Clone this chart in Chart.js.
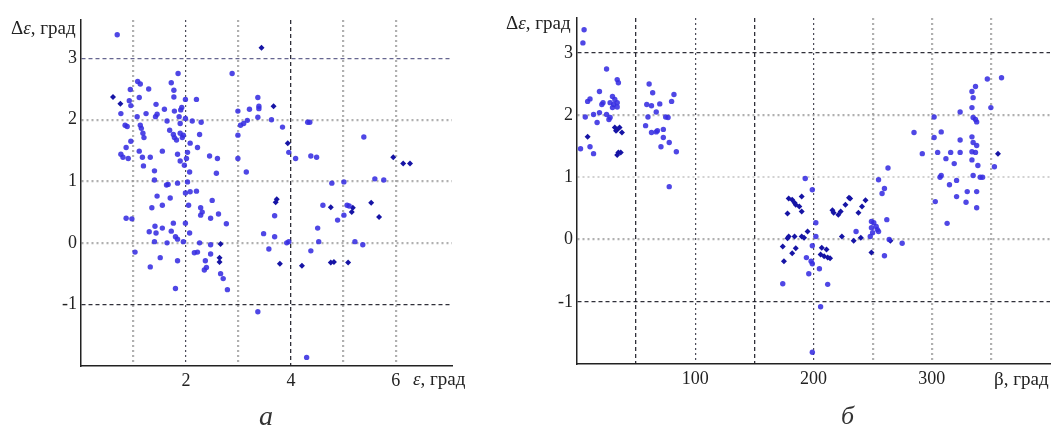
<!DOCTYPE html>
<html>
<head>
<meta charset="utf-8">
<script src="https://cdn.jsdelivr.net/npm/chart.js@4.4.1/dist/chart.umd.min.js"></script>
<style>
  html, body { margin: 0; padding: 0; background: #fff; }
  #wrap { position: relative; width: 1056px; height: 425px; overflow: hidden;
          font-family: "Liberation Serif", "DejaVu Serif", serif; color: #222; }
  #wrap canvas { position: absolute; top: 0; }
  .lbl { position: absolute; white-space: nowrap; font-size: 19px; line-height: 1; }
  .cap { position: absolute; font-style: italic; line-height: 1; color: #333; }
</style>
</head>
<body>
<div id="wrap">
  <canvas id="chart-a" width="480" height="425" style="left:0"></canvas>
  <canvas id="chart-b" width="566" height="425" style="left:490px"></canvas>

  <div class="lbl" style="left:11px; top:18px">Δ<i>ε</i>, град</div>
  <div class="lbl" style="left:413px; top:369px"><i>ε</i>, град</div>
  <div class="cap" style="left:259px; top:402px; font-size:28px">а</div>

  <div class="lbl" style="left:506px; top:13px">Δ<i>ε</i>, град</div>
  <div class="lbl" style="left:994px; top:369px">β, град</div>
  <div class="cap" style="left:841px; top:403px; font-size:26px">б</div>
</div>

<script>
// ---- data: chart (а), Δε vs ε ----
const leftDotX = [0.69,1.85,2.88,1.08,1.13,1.29,0.94,1.72,1.77,0.92,
  0.95,1.11,1.43,1.59,1.77,1.99,2.20,1.92,1.90,1.78,
  1.24,1.42,1.45,0.76,1.07,1.64,1.87,1.99,2.12,2.29,
  1.89,0.84,0.88,1.13,1.15,1.18,1.20,1.69,1.76,1.78,
  1.82,1.89,1.95,1.93,2.26,0.95,0.86,1.11,1.55,2.08,
  2.22,2.03,0.76,0.80,0.90,1.17,1.32,1.84,2.01,1.89,
  2.45,2.60,1.19,1.97,1.40,2.07,2.58,2.99,3.15,2.99,
  2.99,3.04,3.10,3.17,3.21,3.37,3.39,3.37,1.40,1.63,
  1.66,1.84,2.03,1.99,2.08,2.20,1.45,1.70,2.50,3.39,
  3.63,3.84,4.32,4.36,3.96,4.09,4.38,4.49,5.39,4.78,
  5.01,5.60,5.77,0.86,0.97,1.35,1.55,2.05,2.28,2.31,
  2.28,2.47,2.62,2.77,1.41,1.30,1.43,1.55,1.76,1.99,
  1.72,1.80,1.84,2.07,1.40,1.64,1.95,2.26,2.47,1.03,
  1.51,2.16,2.22,2.47,1.84,2.37,2.35,2.39,1.32,2.66,
  2.71,1.80,2.79,3.37,4.61,5.07,5.11,5.01,4.89,3.69,
  3.48,3.69,4.51,3.92,3.96,4.53,3.58,4.38,5.22,5.37,
  4.30];
const leftDotY = [3.38,2.75,2.75,2.62,2.58,2.50,2.49,2.60,2.48,2.31,
  2.23,2.36,2.25,2.17,2.37,2.33,2.33,2.20,2.16,2.14,
  2.10,2.05,2.09,2.10,2.05,1.98,2.05,2.02,1.98,1.96,
  1.94,1.91,1.89,1.91,1.86,1.78,1.71,1.83,1.76,1.71,
  1.67,1.78,1.75,1.71,1.76,1.65,1.55,1.49,1.49,1.62,
  1.55,1.47,1.44,1.39,1.37,1.39,1.39,1.44,1.37,1.33,
  1.41,1.37,1.25,1.26,1.17,1.15,1.13,1.37,1.15,1.75,
  2.14,1.91,1.94,1.99,2.17,2.36,2.18,2.04,1.02,0.94,
  0.95,0.97,0.99,0.81,0.83,0.84,0.76,0.73,0.69,2.22,
  2.00,1.88,1.96,1.96,1.47,1.37,1.41,1.39,1.72,0.97,
  0.99,1.04,1.02,0.40,0.39,0.57,0.61,0.61,0.57,0.50,
  0.45,0.40,0.47,0.31,0.27,0.18,0.16,0.24,0.32,0.32,
  0.19,0.10,0.06,0.16,0.02,0.00,0.02,0.00,-0.03,-0.15,
  -0.24,-0.16,-0.15,-0.18,-0.29,-0.29,-0.44,-0.40,-0.39,-0.50,
  -0.58,-0.74,-0.76,-1.12,0.61,0.61,0.60,0.45,0.37,0.44,
  0.15,0.10,0.24,0.00,0.02,0.02,-0.10,-0.13,0.02,-0.03,
  -1.86];
const leftCrossX = [0.61,0.75,3.44,3.67,3.94,5.95,6.14,6.27,3.73,3.71,4.76,5.18,
  5.16,5.53,5.68,3.79,4.21,4.76,4.82,5.09,2.66,2.64,2.64];
const leftCrossY = [2.37,2.26,3.17,2.22,1.62,1.39,1.29,1.29,0.71,0.66,0.58,0.57,
  0.50,0.65,0.42,-0.34,-0.37,-0.32,-0.31,-0.32,-0.02,-0.24,-0.31];
const leftXLabels = [2, 4, 6];
const leftYLabels = [-1, 0, 1, 2, 3];

// ---- data: chart (б), Δε vs β ----
const rightDotX = [6,5,25,34,35,19,11,9,22,21,
  30,32,34,31,28,34,30,19,14,7,
  25,28,27,17,3,11,14,61,64,82,
  80,59,63,70,67,60,75,77,58,63,
  67,68,73,73,78,71,84,78,285,292,
  302,308,302,324,324,334,335,337,338,334,
  335,337,347,359,350,334,335,338,334,337,
  334,339,305,316,324,312,319,353,308,307,
  315,321,335,341,343,330,338,321,303,329,
  338,313,193,199,263,255,260,258,251,249,
  253,254,249,255,250,262,236,248,264,275,
  260,202,202,199,194,198,199,205,196,174,
  212,206,199];
const rightDotY = [3.37,3.16,2.74,2.57,2.52,2.38,2.26,2.22,2.20,2.17,
  2.30,2.25,2.20,2.17,2.20,2.13,2.12,2.04,2.01,1.97,
  2.01,1.96,1.93,1.88,1.46,1.49,1.38,2.50,2.36,2.33,
  2.22,2.17,2.15,2.18,2.05,1.97,1.97,1.96,1.83,1.72,
  1.73,1.75,1.77,1.64,1.56,1.49,1.41,0.85,1.72,1.38,
  1.97,1.73,1.64,2.05,1.60,2.12,1.96,1.93,1.89,2.38,
  2.28,2.46,2.58,2.60,2.12,1.65,1.56,1.51,1.41,1.40,
  1.28,1.19,1.40,1.40,1.40,1.30,1.22,1.17,1.03,1.00,
  0.88,0.95,1.03,1.00,1.00,0.77,0.77,0.69,0.61,0.60,
  0.51,0.26,0.98,0.80,1.15,0.96,0.82,0.74,0.27,0.29,
  0.21,0.16,0.19,0.13,0.11,0.32,0.13,0.05,0.00,-0.06,
  -0.26,0.27,0.05,-0.10,-0.29,-0.35,-0.39,-0.47,-0.55,-0.71,
  -0.72,-1.08,-1.81];
const rightCrossX = [32,34,36,38,33,34,35,37,9,356,
  182,184,190,188,190,178,185,179,
  216,217,223,221,227,230,231,238,241,244,
  224,234,240,179,184,190,195,192,178,
  174,185,182,175,207,211,212,206,209,214,249,265];
const rightCrossY = [1.80,1.77,1.80,1.72,1.75,1.36,1.40,1.40,1.65,1.38,
  0.64,0.59,0.69,0.53,0.45,0.42,0.56,0.66,
  0.47,0.43,0.45,0.40,0.56,0.67,0.66,0.43,0.53,0.63,
  0.05,-0.02,0.03,0.05,0.05,0.05,0.13,0.03,0.02,
  -0.11,-0.14,-0.22,-0.35,-0.13,-0.16,-0.29,-0.24,-0.27,-0.30,-0.21,-0.02];
const rightXLabels = [100, 200, 300];
const rightYLabels = [-1, 0, 1, 2, 3];

// ---- grid line looks ----
const GRID = {
  dark:  { color: 'rgba(25,25,35,0.9)',    width: 1.3, dash: [4, 3] },
  dot:   { color: 'rgba(45,45,60,0.85)',   width: 1.2, dash: [2, 3] },
  gray:  { color: 'rgba(150,150,150,0.75)', width: 2.2, dash: [2, 3] },
  light: { color: 'rgba(180,180,180,0.6)', width: 2,   dash: [2, 3] },
  slate: { color: 'rgba(75,75,125,0.85)',  width: 1.2, dash: [4, 3] },
  none:  { color: 'rgba(0,0,0,0)',         width: 1,   dash: [] }
};
const gridOf = (map, c) => GRID[(c.tick && map[c.tick.value]) || 'none'];

const DOT = 'rgba(55,45,225,0.88)';
const CROSS = 'rgb(22,20,165)';
const TICK_FONT = { family: '"Liberation Serif", "DejaVu Serif", serif', size: 18 };

const pts = (xs, ys) => xs.map((x, i) => ({ x, y: ys[i] }));

function makeChart(id, cfg) {
  const axis = (map, labels, extra) => Object.assign({
    type: 'linear',
    ticks: {
      includeBounds: false, autoSkip: false, maxRotation: 0, padding: 4,
      color: '#222', font: TICK_FONT,
      callback: v => labels.includes(v) ? String(v) : ''
    },
    grid: {
      drawTicks: false,
      color: c => gridOf(map, c).color,
      lineWidth: c => gridOf(map, c).width
    },
    border: {
      display: true, color: '#222', width: 1.5,
      dash: c => gridOf(map, c).dash
    }
  }, extra);

  const x = axis(cfg.xGrid, cfg.xLabels, { min: 0, max: cfg.xMax, afterFit: s => { s.height = 30; } });
  x.ticks.stepSize = cfg.xStep;
  const y = axis(cfg.yGrid, cfg.yLabels, { min: -2, max: cfg.yMax, afterFit: s => { s.width = cfg.yWidth; } });
  y.ticks.stepSize = 1;

  return new Chart(document.getElementById(id), {
    type: 'scatter',
    data: {
      datasets: [
        { data: pts(cfg.dotX, cfg.dotY), backgroundColor: DOT, borderWidth: 0, pointRadius: 2.7, pointStyle: 'circle' },
        { data: pts(cfg.crossX, cfg.crossY), backgroundColor: CROSS, borderWidth: 0, pointRadius: 3, pointStyle: 'rectRot' }
      ]
    },
    options: {
      responsive: false, animation: false, devicePixelRatio: 1,
      layout: { padding: cfg.padding },
      plugins: { legend: { display: false }, tooltip: { enabled: false } },
      scales: { x, y }
    }
  });
}

makeChart('chart-a', {
  dotX: leftDotX, dotY: leftDotY, crossX: leftCrossX, crossY: leftCrossY,
  xMax: 7.07, xStep: 1, yMax: 3.62, yWidth: 81,
  xLabels: leftXLabels, yLabels: leftYLabels,
  xGrid: { 1: 'gray', 2: 'dot', 3: 'gray', 4: 'dark', 5: 'gray', 6: 'gray' },
  yGrid: { 3: 'slate', 2: 'gray', 1: 'gray', 0: 'gray', '-1': 'dark' },
  padding: { left: 0, right: 28, top: 20, bottom: 29 }
});

// max 400 keeps the 50-step ticks on round values
makeChart('chart-b', {
  dotX: rightDotX, dotY: rightDotY, crossX: rightCrossX, crossY: rightCrossY,
  xMax: 400, xStep: 50, yMax: 3.56, yWidth: 87,
  xLabels: rightXLabels, yLabels: rightYLabels,
  xGrid: { 50: 'dark', 100: 'dot', 150: 'dark', 200: 'dot', 250: 'gray', 300: 'gray', 350: 'gray' },
  yGrid: { 3: 'dark', 2: 'gray', 1: 'light', 0: 'gray', '-1': 'dark' },
  padding: { left: 0, right: 6, top: 18, bottom: 31 }
});
</script>
</body>
</html>
